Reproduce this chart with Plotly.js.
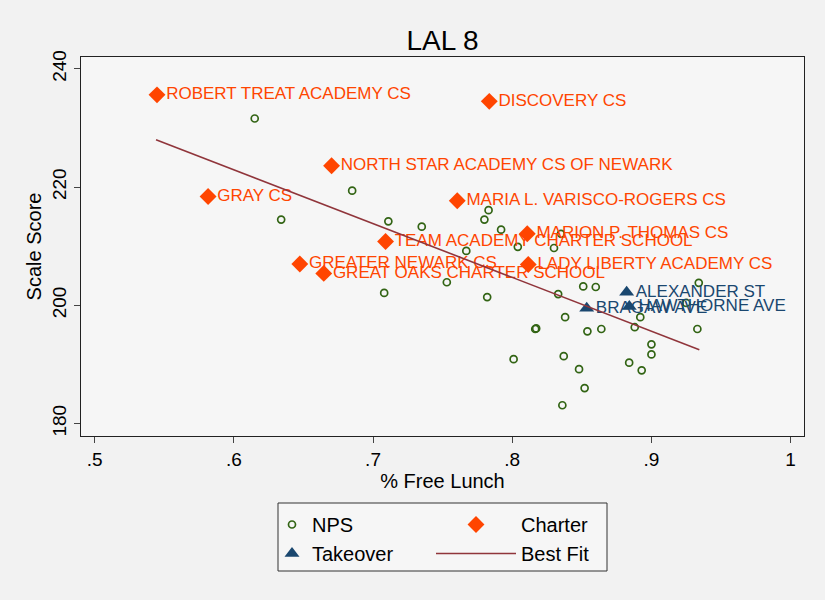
<!DOCTYPE html>
<html>
<head>
<meta charset="utf-8">
<script src="https://cdn.plot.ly/plotly-3.0.1.min.js"></script>
<style>
  html, body { margin: 0; padding: 0; background: #f2f2f2; }
  #graph { width: 825px; height: 600px; }
</style>
</head>
<body>
<div id="graph"></div>
<script>
// NPS schools (hollow circles)
const npsX = [0.615, 0.685, 0.634, 0.711, 0.735, 0.783, 0.780, 0.792, 0.767, 0.804,
              0.753, 0.708, 0.782, 0.830, 0.835, 0.851, 0.860, 0.833, 0.934, 0.925,
              0.892, 0.838, 0.8165, 0.8172, 0.854, 0.864, 0.888, 0.933, 0.900, 0.900,
              0.801, 0.837, 0.884, 0.893, 0.848, 0.852, 0.836];
const npsY = [231.6, 219.4, 214.5, 214.2, 213.3, 216.1, 214.5, 212.8, 209.2, 209.9,
              203.9, 202.1, 201.4, 209.7, 212.1, 203.2, 203.1, 201.9, 203.8, 200.4,
              198.0, 198.0, 196.0, 196.1, 195.6, 196.0, 196.3, 196.0, 193.4, 191.7,
              190.9, 191.4, 190.3, 189.0, 189.2, 186.0, 183.1];

// Charter schools (diamonds, labelled)
const charterNames = ["ROBERT TREAT ACADEMY CS", "DISCOVERY CS", "NORTH STAR ACADEMY CS OF NEWARK",
                      "GRAY CS", "MARIA L. VARISCO-ROGERS CS", "TEAM ACADEMY CHARTER SCHOOL",
                      "MARION P. THOMAS CS", "LADY LIBERTY ACADEMY CS", "GREATER NEWARK CS",
                      "GREAT OAKS CHARTER SCHOOL"];
const charterX = [0.5448, 0.7835, 0.6702, 0.5815, 0.7605, 0.7090, 0.8108, 0.8115, 0.6474, 0.6646];
const charterY = [235.6, 234.5, 223.6, 218.4, 217.7, 210.8, 212.1, 206.9, 207.0, 205.4];

// Takeover schools (triangles, labelled)
const takeoverNames = ["ALEXANDER ST", "HAWTHORNE AVE", "BRAGAW AVE"];
const takeoverX = [0.8822, 0.8841, 0.8535];
const takeoverY = [202.2, 199.8, 199.5];

// Best fit line end points
const fitX = [0.5441, 0.9344];
const fitY = [228.0, 192.5];

const xTickVals = [0.5, 0.6, 0.7, 0.8, 0.9, 1];
const xTickText = [".5", ".6", ".7", ".8", ".9", "1"];
const yTickVals = [180, 200, 220, 240];

const orangeRed = "rgb(255,69,0)";
const navy = "rgb(26,71,111)";

function draw() {
    const nps = {
        x: npsX, y: npsY,
        type: 'scatter', mode: 'markers', name: 'NPS',
        marker: { symbol: 'circle-open', size: 7, color: 'rgb(50,100,20)', line: { width: 1.7 } },
        legend: 'legend'
    };
    const charter = {
        x: charterX, y: charterY, text: charterNames,
        type: 'scatter', mode: 'markers+text', name: 'Charter',
        textposition: 'middle right',
        textfont: { family: 'Liberation Sans, Arial, sans-serif', size: 17, color: orangeRed },
        marker: { symbol: 'diamond', size: 13, color: orangeRed },
        cliponaxis: false,
        legend: 'legend2'
    };
    const takeover = {
        x: takeoverX, y: takeoverY, text: takeoverNames,
        type: 'scatter', mode: 'markers+text', name: 'Takeover',
        textposition: 'middle right',
        textfont: { family: 'Liberation Sans, Arial, sans-serif', size: 17, color: navy },
        marker: { symbol: 'triangle-up', size: 13, color: navy },
        cliponaxis: false,
        legend: 'legend'
    };
    const fit = {
        x: fitX, y: fitY,
        type: 'scatter', mode: 'lines', name: 'Best Fit',
        line: { color: 'rgb(144,53,59)', width: 1.6 },
        legend: 'legend2'
    };

    const legendFont = { family: 'Liberation Sans, Arial, sans-serif', size: 20, color: '#000' };

    const layout = {
        width: 825, height: 600,
        paper_bgcolor: '#f2f2f2',
        plot_bgcolor: '#f6f6f6',
        margin: { l: 81, r: 21, t: 57, b: 164 },
        font: { family: 'Liberation Sans, Arial, sans-serif', color: '#000' },
        title: {
            text: 'LAL 8',
            font: { size: 28, color: '#000' },
            xref: 'paper', x: 0.5, xanchor: 'center',
            y: 1 - 40 / 600, yanchor: 'middle'
        },
        xaxis: {
            range: [0.4902, 1.0096],
            tickvals: xTickVals, ticktext: xTickText,
            ticks: 'outside', ticklen: 6, tickcolor: '#444', tickwidth: 1,
            tickfont: { size: 19 },
            showgrid: false, zeroline: false,
            showline: true, mirror: true, linecolor: '#222', linewidth: 1,
            title: { text: '% Free Lunch', font: { size: 20 }, standoff: 4 },
            automargin: false
        },
        yaxis: {
            range: [177.9, 242.0],
            tickvals: yTickVals,
            ticks: 'outside', ticklen: 6, tickcolor: '#444', tickwidth: 1,
            tickangle: -90,
            tickfont: { size: 19 },
            showgrid: false, zeroline: false,
            showline: true, mirror: true, linecolor: '#222', linewidth: 1,
            title: { text: 'Scale Score', font: { size: 20 }, standoff: 2 },
            automargin: false
        },
        legend: {
            x: (272 - 81) / 723, xanchor: 'left',
            y: (436 - 505) / 379, yanchor: 'top',
            bgcolor: 'rgba(0,0,0,0)', borderwidth: 0,
            font: legendFont, tracegroupgap: 0, itemwidth: 30
        },
        legend2: {
            x: (431 - 81) / 723, xanchor: 'left',
            y: (436 - 505) / 379, yanchor: 'top',
            bgcolor: 'rgba(0,0,0,0)', borderwidth: 0,
            font: legendFont, tracegroupgap: 0, itemwidth: 80
        },
        shapes: [{
            type: 'rect', xref: 'paper', yref: 'paper',
            x0: (278 - 81) / 723, x1: (607 - 81) / 723,
            y0: (436 - 571) / 379, y1: (436 - 503) / 379,
            line: { color: '#333', width: 1 },
            fillcolor: '#f6f6f6', layer: 'below'
        }]
    };

    Plotly.react('graph', [nps, charter, takeover, fit], layout, { displayModeBar: false });
}

window.addEventListener("load", draw, false);
</script>
</body>
</html>
